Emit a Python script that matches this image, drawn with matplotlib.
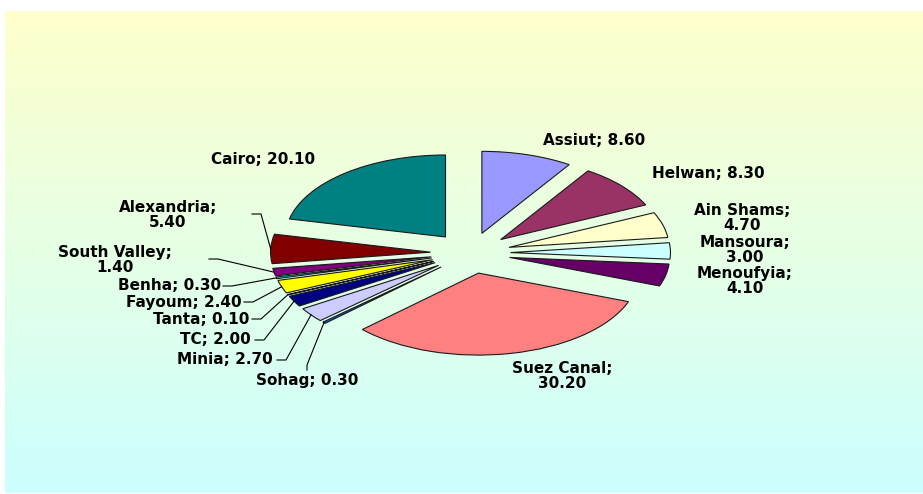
import numpy as np
import matplotlib
matplotlib.use('Agg')
import matplotlib.pyplot as plt

# universities and their shares, clockwise from 12 o'clock
names = ['Assiut', 'Helwan', 'Ain Shams', 'Mansoura', 'Menoufyia', 'Suez Canal',
         'Sohag', 'Minia', 'TC', 'Tanta', 'Fayoum', 'Benha', 'South Valley',
         'Alexandria', 'Cairo']
values = [8.60, 8.30, 4.70, 3.00, 4.10, 30.20, 0.30, 2.70, 2.00, 0.10, 2.40,
          0.30, 1.40, 5.40, 20.10]
colors = ['#9999FF', '#993366', '#FFFFCC', '#CCFFFF', '#660066', '#FF8080',
          '#0066CC', '#CCCCFF', '#000080', '#FF00FF', '#FFFF00', '#00FFFF',
          '#800080', '#800000', '#008080']
# label text split into lines where the original wraps
wrap = ['Ain Shams', 'Mansoura', 'Menoufyia', 'Suez Canal', 'South Valley', 'Alexandria']

W, H = 923, 494
CX, CY, RX, RY = 470.5, 253.0, 160.0, 82.0


def to_data(px, py):
    return (px - CX) / RX, (CY - py) / RY


# label placement in pixels: (x, y, ha, leader start or None)
label_pos = {
    'Assiut': (594, 141, 'center', None),
    'Helwan': (708, 174, 'center', None),
    'Ain Shams': (742, 218, 'center', None),
    'Mansoura': (745, 250, 'center', None),
    'Menoufyia': (745, 281, 'center', None),
    'Suez Canal': (562, 376, 'center', None),
    'Sohag': (307, 381, 'center', (307, 370)),
    'Minia': (273, 360, 'right', (277, 360)),
    'TC': (251, 340, 'right', (255, 340)),
    'Tanta': (249, 319, 'right', (252, 319)),
    'Fayoum': (242, 302, 'right', (244, 302)),
    'Benha': (221, 286, 'right', (223, 286)),
    'South Valley': (115, 260, 'center', (209, 259)),
    'Alexandria': (168, 215, 'center', (252, 214)),
    'Cairo': (263, 160, 'center', None),
}

fig = plt.figure(figsize=(W / 100, H / 100), dpi=100)
fig.patch.set_facecolor('white')

# gradient background panel
bg = fig.add_axes([4.7 / W, 1 / H, 1 - 4.7 / W, 482 / H])
top = np.array([255, 255, 204]) / 255
bottom = np.array([204, 255, 255]) / 255
t = np.linspace(0, 1, 256)[:, None, None]
grad = top * (1 - t) + bottom * t
bg.imshow(grad, aspect='auto', extent=[0, 1, 0, 1])
bg.axis('off')

ax = fig.add_axes([0, 0, 1, 1])
ax.patch.set_visible(False)
wedges, _ = ax.pie(values, colors=colors, startangle=90, counterclock=False,
                   explode=[0.25] * len(values),
                   wedgeprops=dict(edgecolor='#1a1a1a', linewidth=0.8))
ax.set_aspect('auto')
x0, y1 = to_data(0, 0)
x1, y0 = to_data(W, H)
ax.set_xlim(x0, x1)
ax.set_ylim(y0, y1)
ax.axis('off')

for w, name, val in zip(wedges, names, values):
    sep = ';\n' if name in wrap else '; '
    txt = f'{name}{sep}{val:.2f}'
    px, py, ha, start = label_pos[name]
    tx, ty = to_data(px, py)
    ax.text(tx, ty, txt, ha=ha, va='center', multialignment='center',
            fontsize=11, fontweight='bold', family='DejaVu Sans',
            linespacing=1.0, color='black')
    if start is not None:
        mid = np.deg2rad((w.theta1 + w.theta2) / 2)
        ex, ey = w.center[0] + w.r * np.cos(mid), w.center[1] + w.r * np.sin(mid)
        sx, sy = to_data(*start)
        if name == 'Sohag':
            kx, ky = to_data(start[0], start[1] - 5)
        else:
            kx, ky = to_data(start[0] + 9, start[1])
        ax.plot([sx, kx, ex], [sy, ky, ey], color='black', lw=0.8)

fig.savefig('out.png', dpi=100)
